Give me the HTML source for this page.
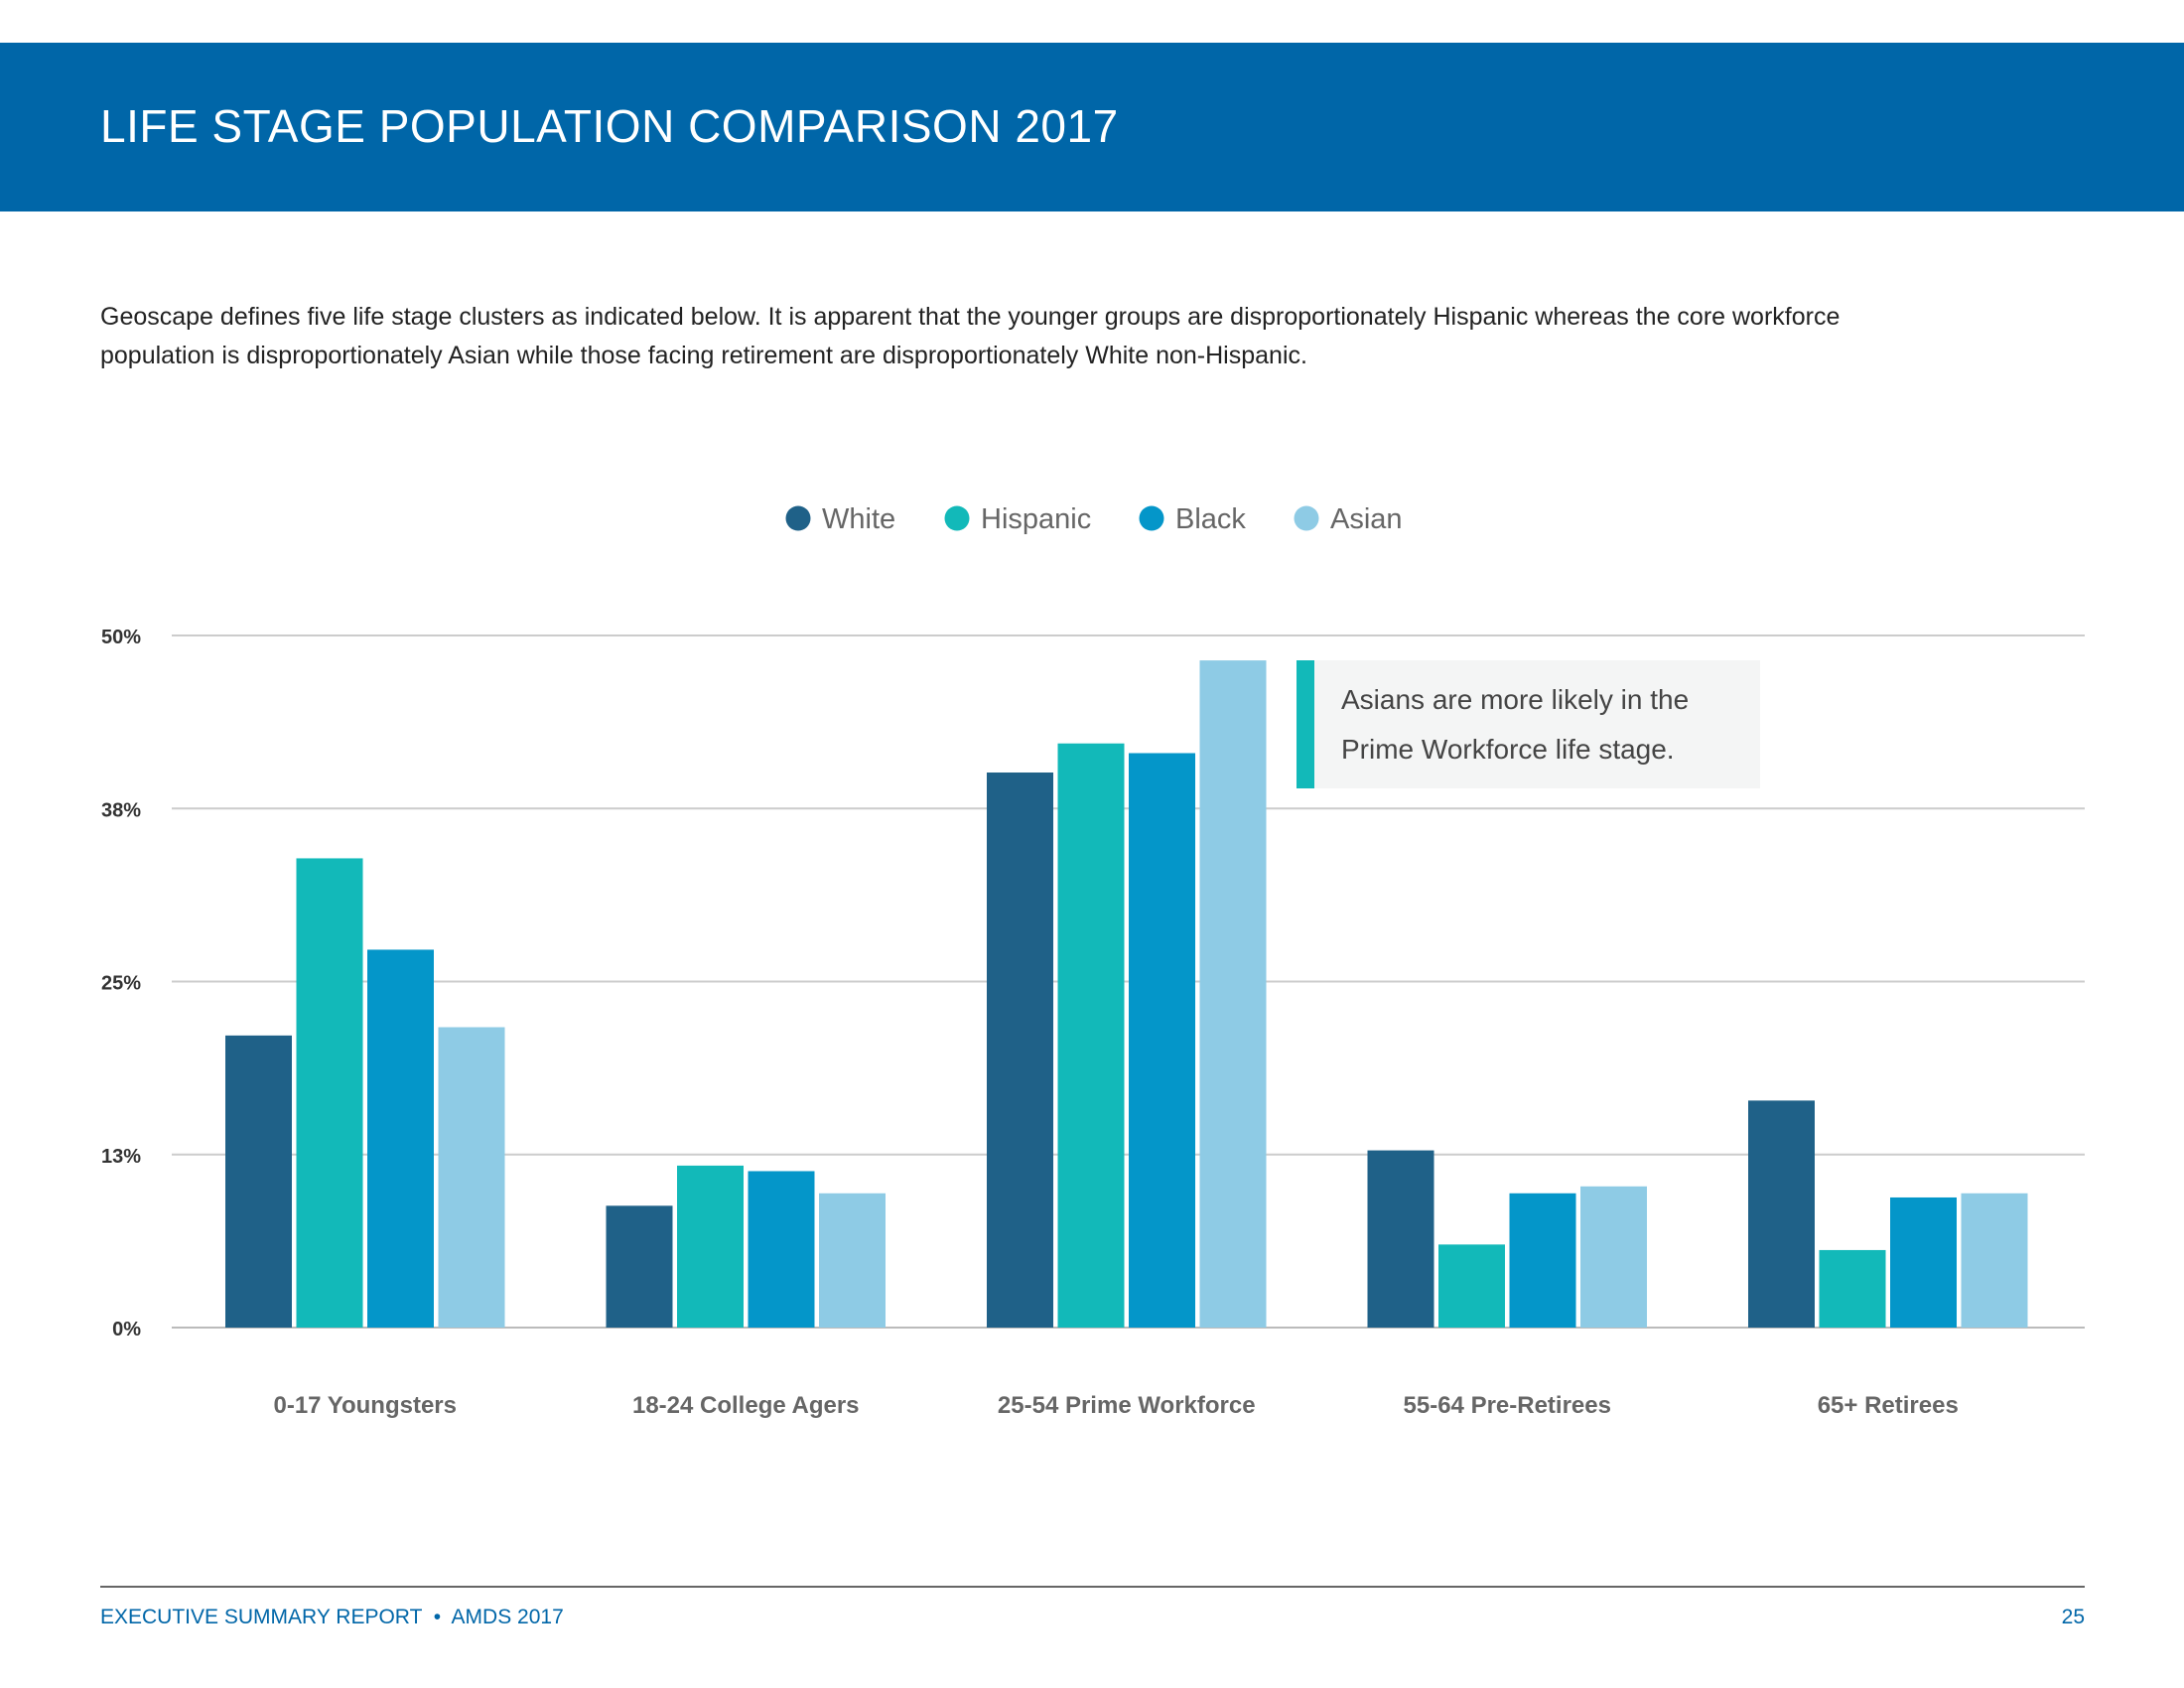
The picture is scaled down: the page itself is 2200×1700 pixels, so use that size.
<!DOCTYPE html>
<html><head><meta charset="utf-8"><style>
body{margin:0;background:#fff;}
#page{position:relative;width:2200px;height:1700px;overflow:hidden;font-family:"Liberation Sans",sans-serif;}
</style></head><body>
<div id="page">
<div style="position:absolute;left:0;top:43px;width:2200px;height:170px;background:#0066a8;"></div>
<div style="position:absolute;left:101px;top:100px;font-size:46px;color:#fff;letter-spacing:0.5px;">LIFE STAGE POPULATION COMPARISON 2017</div>
<div style="position:absolute;left:101px;top:300px;width:1850px;font-size:25px;line-height:39px;color:#222;">Geoscape defines five life stage clusters as indicated below. It is apparent that the younger groups are disproportionately Hispanic whereas the core workforce population is disproportionately Asian while those facing retirement are disproportionately White non-Hispanic.</div>
<svg id="chart" width="2200" height="1700" style="position:absolute;left:0;top:0;"></svg>
<div style="position:absolute;left:1306px;top:665px;width:467px;height:129px;background:#f4f5f5;">
<div style="position:absolute;left:0;top:0;width:18px;height:129px;background:#12b9b9;"></div>
<div style="position:absolute;left:45px;top:15px;font-size:28px;line-height:50px;color:#444;">Asians are more likely in the<br>Prime Workforce life stage.</div>
</div>
<div style="position:absolute;left:101px;top:1597px;width:1999px;height:2px;background:#666;"></div>
<div style="position:absolute;left:101px;top:1617px;font-size:21px;color:#0066a8;">EXECUTIVE SUMMARY REPORT &nbsp;•&nbsp; AMDS 2017</div>
<div style="position:absolute;right:100px;top:1617px;font-size:21px;color:#0066a8;">25</div>
</div>
<script>
const categories=["0-17 Youngsters","18-24 College Agers","25-54 Prime Workforce","55-64 Pre-Retirees","65+ Retirees"];
const seriesNames=["White","Hispanic","Black","Asian"];
const white=[21.1,8.8,40.1,12.8,16.4];
const hispanic=[33.9,11.7,42.2,6.0,5.6];
const black=[27.3,11.3,41.5,9.7,9.4];
const asian=[21.7,9.7,48.2,10.2,9.7];
const tickValues=[0,12.5,25,37.5,50];
const tickLabels=["0%","13%","25%","38%","50%"];
const colors=["#1f6188","#12b9b9","#0496c9","#8ecbe5"];
const series=[white,hispanic,black,asian];
const NS="http://www.w3.org/2000/svg";
const svg=document.getElementById('chart');
const y0=1337,yTop=640,xL=173,xR=2100;
function yScale(v){return y0-(v/50)*(y0-yTop);}
function groupX(i){return 227+i*383.5;}
const barW=67,barStep=71.5;
function mk(t,a){const e=document.createElementNS(NS,t);for(const k in a)e.setAttribute(k,a[k]);svg.appendChild(e);return e;}
tickValues.forEach((v,i)=>{
 const l=mk('line',{x1:xL,x2:xR,y1:yScale(v),y2:yScale(v),stroke:i==0?'#bbb':'#ccc','stroke-width':2});
 
 
 const t=mk('text',{x:142,y:yScale(v)+8,'text-anchor':'end','font-size':20,'font-weight':'bold',fill:'#333','font-family':'Liberation Sans'});
 t.textContent=tickLabels[i];
 
 
});
categories.forEach((c,i)=>{
 series.forEach((s,j)=>{
  const r=mk('rect',{x:groupX(i)+j*barStep,y:yScale(s[i]),width:barW,height:y0-yScale(s[i]),fill:colors[j]});
  
  
 });
 const t=mk('text',{x:groupX(i)+(3*barStep+barW)/2,y:1423,'text-anchor':'middle','font-size':24,'font-weight':'bold',fill:'#666','font-family':'Liberation Sans'});
 t.textContent=c;
 
 
});
const legX=[804,964,1160,1316];
seriesNames.forEach((n,j)=>{
 const c=mk('circle',{cx:legX[j],cy:522,r:12.5,fill:colors[j]});
 
 
 const t=mk('text',{x:legX[j]+24,y:532,'font-size':29,fill:'#666','font-family':'Liberation Sans'});
 t.textContent=n;
 
 
});
</script>
</body></html>
